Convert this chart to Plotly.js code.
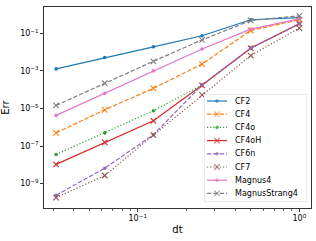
<!DOCTYPE html>
<html><head><meta charset="utf-8">
<script src="https://cdn.plot.ly/plotly-3.0.1.min.js"></script>
<style>html,body{margin:0;padding:0;background:#fff}#c{width:316px;height:241px}</style>
</head><body><div id="c"></div>
<script>
const dt = [1/32, 1/16, 1/8, 1/4, 1/2, 1];
const names = ["CF2","CF4","CF4o","CF4oH","CF6n","CF7","Magnus4","MagnusStrang4"];
const CF2 = [1.27e-3, 5.13e-3, 1.9e-2, 7.4e-2, 0.525, 0.69];
const CF4 = [5.0e-7, 8.5e-6, 1.17e-4, 2.29e-3, 0.141, 0.525];
const CF4o = [3.55e-8, 5.0e-7, 7.6e-6, 1.78e-4, 1.62e-2, 0.324];
const CF4oH = [1.05e-8, 1.55e-7, 2.19e-6, 1.70e-4, 1.62e-2, 0.324];
const CF6n = [2.4e-10, 6.6e-9, 3.98e-7, 1.78e-4, 1.62e-2, 0.324];
const CF7 = [1.78e-10, 2.69e-9, 3.8e-7, 5.25e-5, 6.46e-3, 0.191];
const Magnus4 = [4.27e-6, 6.46e-5, 1.0e-3, 1.45e-2, 0.166, 0.589];
const MagnusStrang4 = [1.45e-5, 2.19e-4, 3.24e-3, 4.47e-2, 0.479, 0.851];
const series = [CF2, CF4, CF4o, CF4oH, CF6n, CF7, Magnus4, MagnusStrang4];
const yTickVals = [1e-1, 1e-3, 1e-5, 1e-7, 1e-9];
const yTickText = ["10<sup>−1</sup>","10<sup>−3</sup>","10<sup>−5</sup>","10<sup>−7</sup>","10<sup>−9</sup>"];
const xTickVals = [0.1, 1];
const xTickText = ["10<sup>−1</sup>","10<sup>0</sup>"];

const colors = ["#1f77b4","#ff7f0e","#2ca02c","#d62728","#9467bd","#8c564b","#e377c2","#7f7f7f"];
const DASHED = "4.4px,1.9px", DOTTED = "1.2px,2px";
const dashes = ["solid", DASHED, DOTTED, "solid", DASHED, DOTTED, "solid", DASHED];
const isX = [false,true,false,true,false,true,false,true];
const LW = 1.2;

function markerFor(i, sizes) {
  if (isX[i]) return {symbol:"x-thin", size: sizes || 5.5, line:{color:colors[i], width:1.1}, color:colors[i]};
  return {symbol:"circle", size: sizes || 3.6, color:colors[i], line:{width:0}};
}

const traces = series.map((s, i) => ({
  x: dt, y: s, name: names[i], type: "scatter", mode: "lines+markers",
  line: {color: colors[i], width: LW, dash: dashes[i]},
  marker: markerFor(i), xaxis: "x", yaxis: "y", showlegend: false
}));

// custom legend (matplotlib-like compact spacing)
const W = 316, H = 241, L = 44, R = 311, T = 7, B = 208;
const box = {x0: 204, x1: 307, y0: 94, y1: 202};
const pw = R - L, ph = B - T;
const rowY0 = 101, rowStep = 13.2;
const annotations = [];
names.forEach((n, i) => {
  const yy = rowY0 + i * rowStep;
  traces.push({
    x: [207, 217, 227], y: [yy, yy, yy], type: "scatter", mode: "lines+markers",
    line: {color: colors[i], width: LW, dash: dashes[i]},
    marker: Object.assign(markerFor(i), {size: isX[i] ? [0, 5.5, 0] : [0, 3.6, 0]}),
    xaxis: "x2", yaxis: "y2", showlegend: false, hoverinfo: "skip"
  });
  annotations.push({x: 233, y: yy, xref: "x2", yref: "y2", text: n, showarrow: false,
    xanchor: "left", yanchor: "middle", font: {size: 8, color: "#000"}});
});

const layout = {
  width: W, height: H,
  margin: {l: L, r: W - R, t: T, b: H - B, pad: 0},
  paper_bgcolor: "#fff", plot_bgcolor: "#fff",
  font: {family: "DejaVu Sans", size: 8, color: "#000"},
  showlegend: false,
  xaxis: {
    type: "log", range: [-1.58, 0.072], showgrid: false, zeroline: false,
    showline: true, mirror: true, linecolor: "#000", linewidth: 0.8,
    ticks: "outside", ticklen: 3, tickwidth: 0.8, tickcolor: "#000",
    tickmode: "array", tickvals: xTickVals, ticktext: xTickText,
    tickfont: {size: 8},
    minor: {tickvals: [0.03,0.04,0.05,0.06,0.07,0.08,0.09,0.2,0.3,0.4,0.5,0.6,0.7,0.8,0.9], ticks: "outside", ticklen: 1.8, tickwidth: 0.6, tickcolor: "#000", showgrid: false},
    title: {text: "dt", font: {size: 10}, standoff: 3},
    automargin: false
  },
  yaxis: {
    type: "log", range: [-10.30, 0.40], showgrid: false, zeroline: false,
    showline: true, mirror: true, linecolor: "#000", linewidth: 0.8,
    ticks: "outside", ticklen: 3, tickwidth: 0.8, tickcolor: "#000",
    tickmode: "array", tickvals: yTickVals, ticktext: yTickText,
    tickfont: {size: 8},
    title: {text: "Err", font: {size: 10}, standoff: 9},
    automargin: false
  },
  xaxis2: {domain: [(box.x0 - L)/pw, (box.x1 - L)/pw], range: [box.x0, box.x1], visible: false, anchor: "y2", fixedrange: true},
  yaxis2: {domain: [(B - box.y1)/ph, (B - box.y0)/ph], range: [box.y1, box.y0], visible: false, anchor: "x2", fixedrange: true},
  shapes: [{type: "rect", xref: "x2", yref: "y2", x0: box.x0, x1: box.x1, y0: box.y0, y1: box.y1,
    line: {color: "#cccccc", width: 0.8}, fillcolor: "rgba(255,255,255,0.8)", layer: "below"}],
  annotations: annotations
};

Plotly.newPlot("c", traces, layout, {displayModeBar: false, staticPlot: true});
</script></body></html>
